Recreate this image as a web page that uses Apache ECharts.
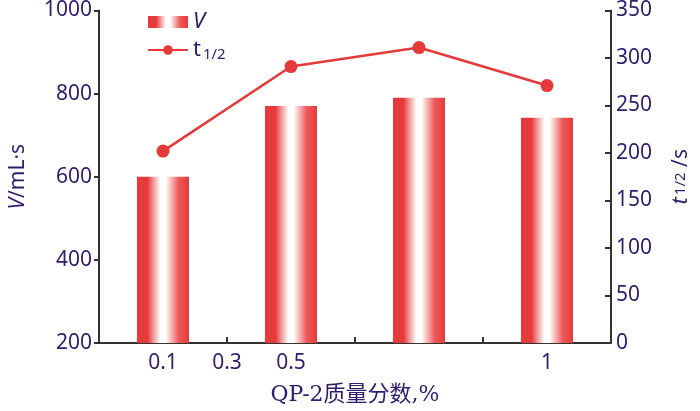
<!DOCTYPE html>
<html><head><meta charset="utf-8">
<script src="https://cdn.jsdelivr.net/npm/echarts@6/dist/echarts.min.js"></script>
<style>html,body{margin:0;padding:0;background:#fff}#c{width:700px;height:411px}</style>
</head><body><div id="c"></div>
<script>
// bar slots along the x axis (half-step units) and values
var barSlots = [1, 3, 5, 7];
var vValues = [600, 770, 790, 742];
var tHalfValues = [202, 291, 311, 271];
// tick labels along x axis
var xLabelSlots = [1, 2, 3, 7];
var xLabelTexts = ['0.1', '0.3', '0.5', '1'];
var xTickSlots = [2, 4, 6];
var leftTicks = [200, 400, 600, 800, 1000];
var rightTicks = [0, 50, 100, 150, 200, 250, 300, 350];

var red = '#e63a3a';
var txt = '#2f1c6e';
var font = 'Noto Sans';
var fs = 21;
var barGrad = new echarts.graphic.LinearGradient(0, 0, 1, 0, [
  {offset: 0, color: red}, {offset: 0.2, color: red},
  {offset: 0.45, color: '#ffffff'}, {offset: 0.55, color: '#ffffff'},
  {offset: 0.8, color: '#ec5a5a'}, {offset: 1, color: red}
]);
var chart = echarts.init(document.getElementById('c'));
chart.setOption({
  animation: false,
  grid: {left: 98, right: 85, top: 10, bottom: 65},
  legend: {
    orient: 'vertical', left: 142, top: 6, itemGap: 6,
    itemWidth: 40, itemHeight: 12,
    data: [{name: 'V', icon: 'rect'}, {name: 't1/2'}],
    textStyle: {color: txt, fontFamily: font, fontSize: 22,
      rich: {i: {fontStyle: 'italic', fontSize: 22, color: txt, fontFamily: font},
             t: {fontSize: 22, color: txt, fontFamily: font},
             s: {fontSize: 15, color: txt, fontFamily: font, padding: [10, 0, 0, 2]}}},
    formatter: function (n) { return n === 'V' ? '{i|V}' : '{t|t}{s|1/2}'; }
  },
  xAxis: {
    type: 'value', min: 0, max: 8,
    name: 'QP-2质量分数,%', nameLocation: 'middle', nameGap: 41,
    nameTextStyle: {color: txt, fontSize: 22, fontFamily: 'DejaVu Serif, Noto Sans CJK SC'},
    axisLine: {show: true, lineStyle: {color: '#333', width: 2}},
    splitLine: {show: false},
    axisTick: {show: true, inside: true, length: 6, customValues: xTickSlots, lineStyle: {color: '#333', width: 2}},
    axisLabel: {customValues: xLabelSlots, margin: 10, color: txt, fontSize: fs, fontFamily: font,
      formatter: function (v) { var i = xLabelSlots.indexOf(v); return i >= 0 ? xLabelTexts[i] : ''; }}
  },
  yAxis: [{
    type: 'value', min: 200, max: 1000, interval: 200,
    name: '{i|V}{n|/mL·s}', nameLocation: 'middle', nameRotate: 90, nameGap: 70,
    nameTextStyle: {color: txt, rich: {i: {fontStyle: 'italic', fontSize: fs, color: txt, fontFamily: font},
      n: {fontSize: fs, color: txt, fontFamily: font}}},
    axisLine: {show: true, lineStyle: {color: '#333', width: 2}},
    splitLine: {show: false},
    axisTick: {show: true, inside: false, length: 5, lineStyle: {color: '#333', width: 2}},
    axisLabel: {margin: 7, color: txt, fontSize: fs, fontFamily: font,
      formatter: function (v) { return String(v); }}
  }, {
    type: 'value', min: 0, max: 350, interval: 50, position: 'right',
    name: '{t|t}{s|1/2}{n| /s}', nameLocation: 'middle', nameRotate: 90, nameGap: 59,
    nameTextStyle: {color: txt, rich: {t: {fontStyle: 'italic', fontSize: 22, color: txt, fontFamily: font},
      s: {fontSize: 15, color: txt, fontFamily: font, padding: [0, 0, 0, 2]},
      n: {fontSize: fs, color: txt, fontFamily: font}}},
    axisLine: {show: true, lineStyle: {color: '#333', width: 2}},
    splitLine: {show: false},
    axisTick: {show: true, inside: true, length: 6, lineStyle: {color: '#333', width: 2}},
    axisLabel: {margin: 5, color: txt, fontSize: fs, fontFamily: font,
      formatter: function (v) { return String(v); }}
  }],
  series: [{
    name: 'V', type: 'bar', yAxisIndex: 0, barWidth: 52,
    itemStyle: {color: barGrad},
    data: barSlots.map(function (x, i) { return [x, vValues[i]]; })
  }, {
    name: 't1/2', type: 'line', yAxisIndex: 1,
    symbol: 'circle', symbolSize: 13,
    lineStyle: {color: red, width: 2.5}, itemStyle: {color: red},
    data: barSlots.map(function (x, i) { return [x, tHalfValues[i]]; })
  }]
});
</script></body></html>
